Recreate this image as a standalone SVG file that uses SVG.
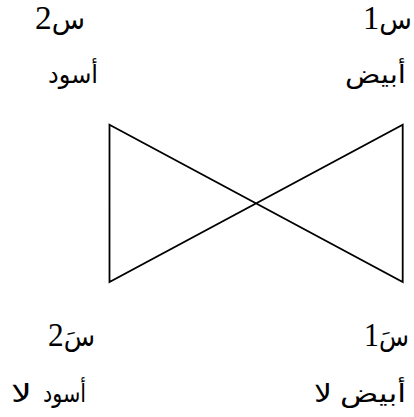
<svg xmlns="http://www.w3.org/2000/svg" width="414" height="417" viewBox="0 0 414 417">
<style>
.t{font-family:"Liberation Serif","DejaVu Sans",serif;font-size:33px;fill:#000;text-anchor:start}
.s{font-family:"DejaVu Sans","Liberation Serif",serif;font-size:27px}
.a{font-family:"DejaVu Sans","Liberation Serif",serif;font-size:25px;fill:#000;text-anchor:start}
.e{fill:none;stroke:#000;stroke-width:1.8;stroke-linejoin:miter}
</style>
<rect width="414" height="417" fill="#fff"/>
<g id="connectors">
<path class="e" d="M109.5,124.7 L402.7,282 L402.7,124.7 L109.5,282 Z"/>
</g>
<g id="s1">
<text class="t" x="363" y="29" textLength="49" lengthAdjust="spacingAndGlyphs"><tspan class="s">س</tspan>1</text>
<text class="a" x="345" y="83" textLength="61" lengthAdjust="spacingAndGlyphs">أبيض</text>
</g>
<g id="s2">
<text class="t" x="35" y="29" textLength="50" lengthAdjust="spacingAndGlyphs"><tspan class="s">س</tspan>2</text>
<text class="a" x="48" y="83" textLength="50" lengthAdjust="spacingAndGlyphs">أسود</text>
</g>
<g id="s1p">
<text class="t" x="364" y="346" textLength="45" lengthAdjust="spacingAndGlyphs"><tspan class="s">سَ</tspan>1</text>
<text class="a" x="314" y="402" textLength="18" lengthAdjust="spacingAndGlyphs">لا</text>
<text class="a" x="340" y="402" textLength="66" lengthAdjust="spacingAndGlyphs">أبيض</text>
</g>
<g id="s2p">
<text class="t" x="48" y="346" textLength="47" lengthAdjust="spacingAndGlyphs"><tspan class="s">سَ</tspan>2</text>
<text class="a" x="11" y="402" textLength="21" lengthAdjust="spacingAndGlyphs">لا</text>
<text class="a" x="43" y="402" textLength="43" lengthAdjust="spacingAndGlyphs">أسود</text>
</g>
</svg>
